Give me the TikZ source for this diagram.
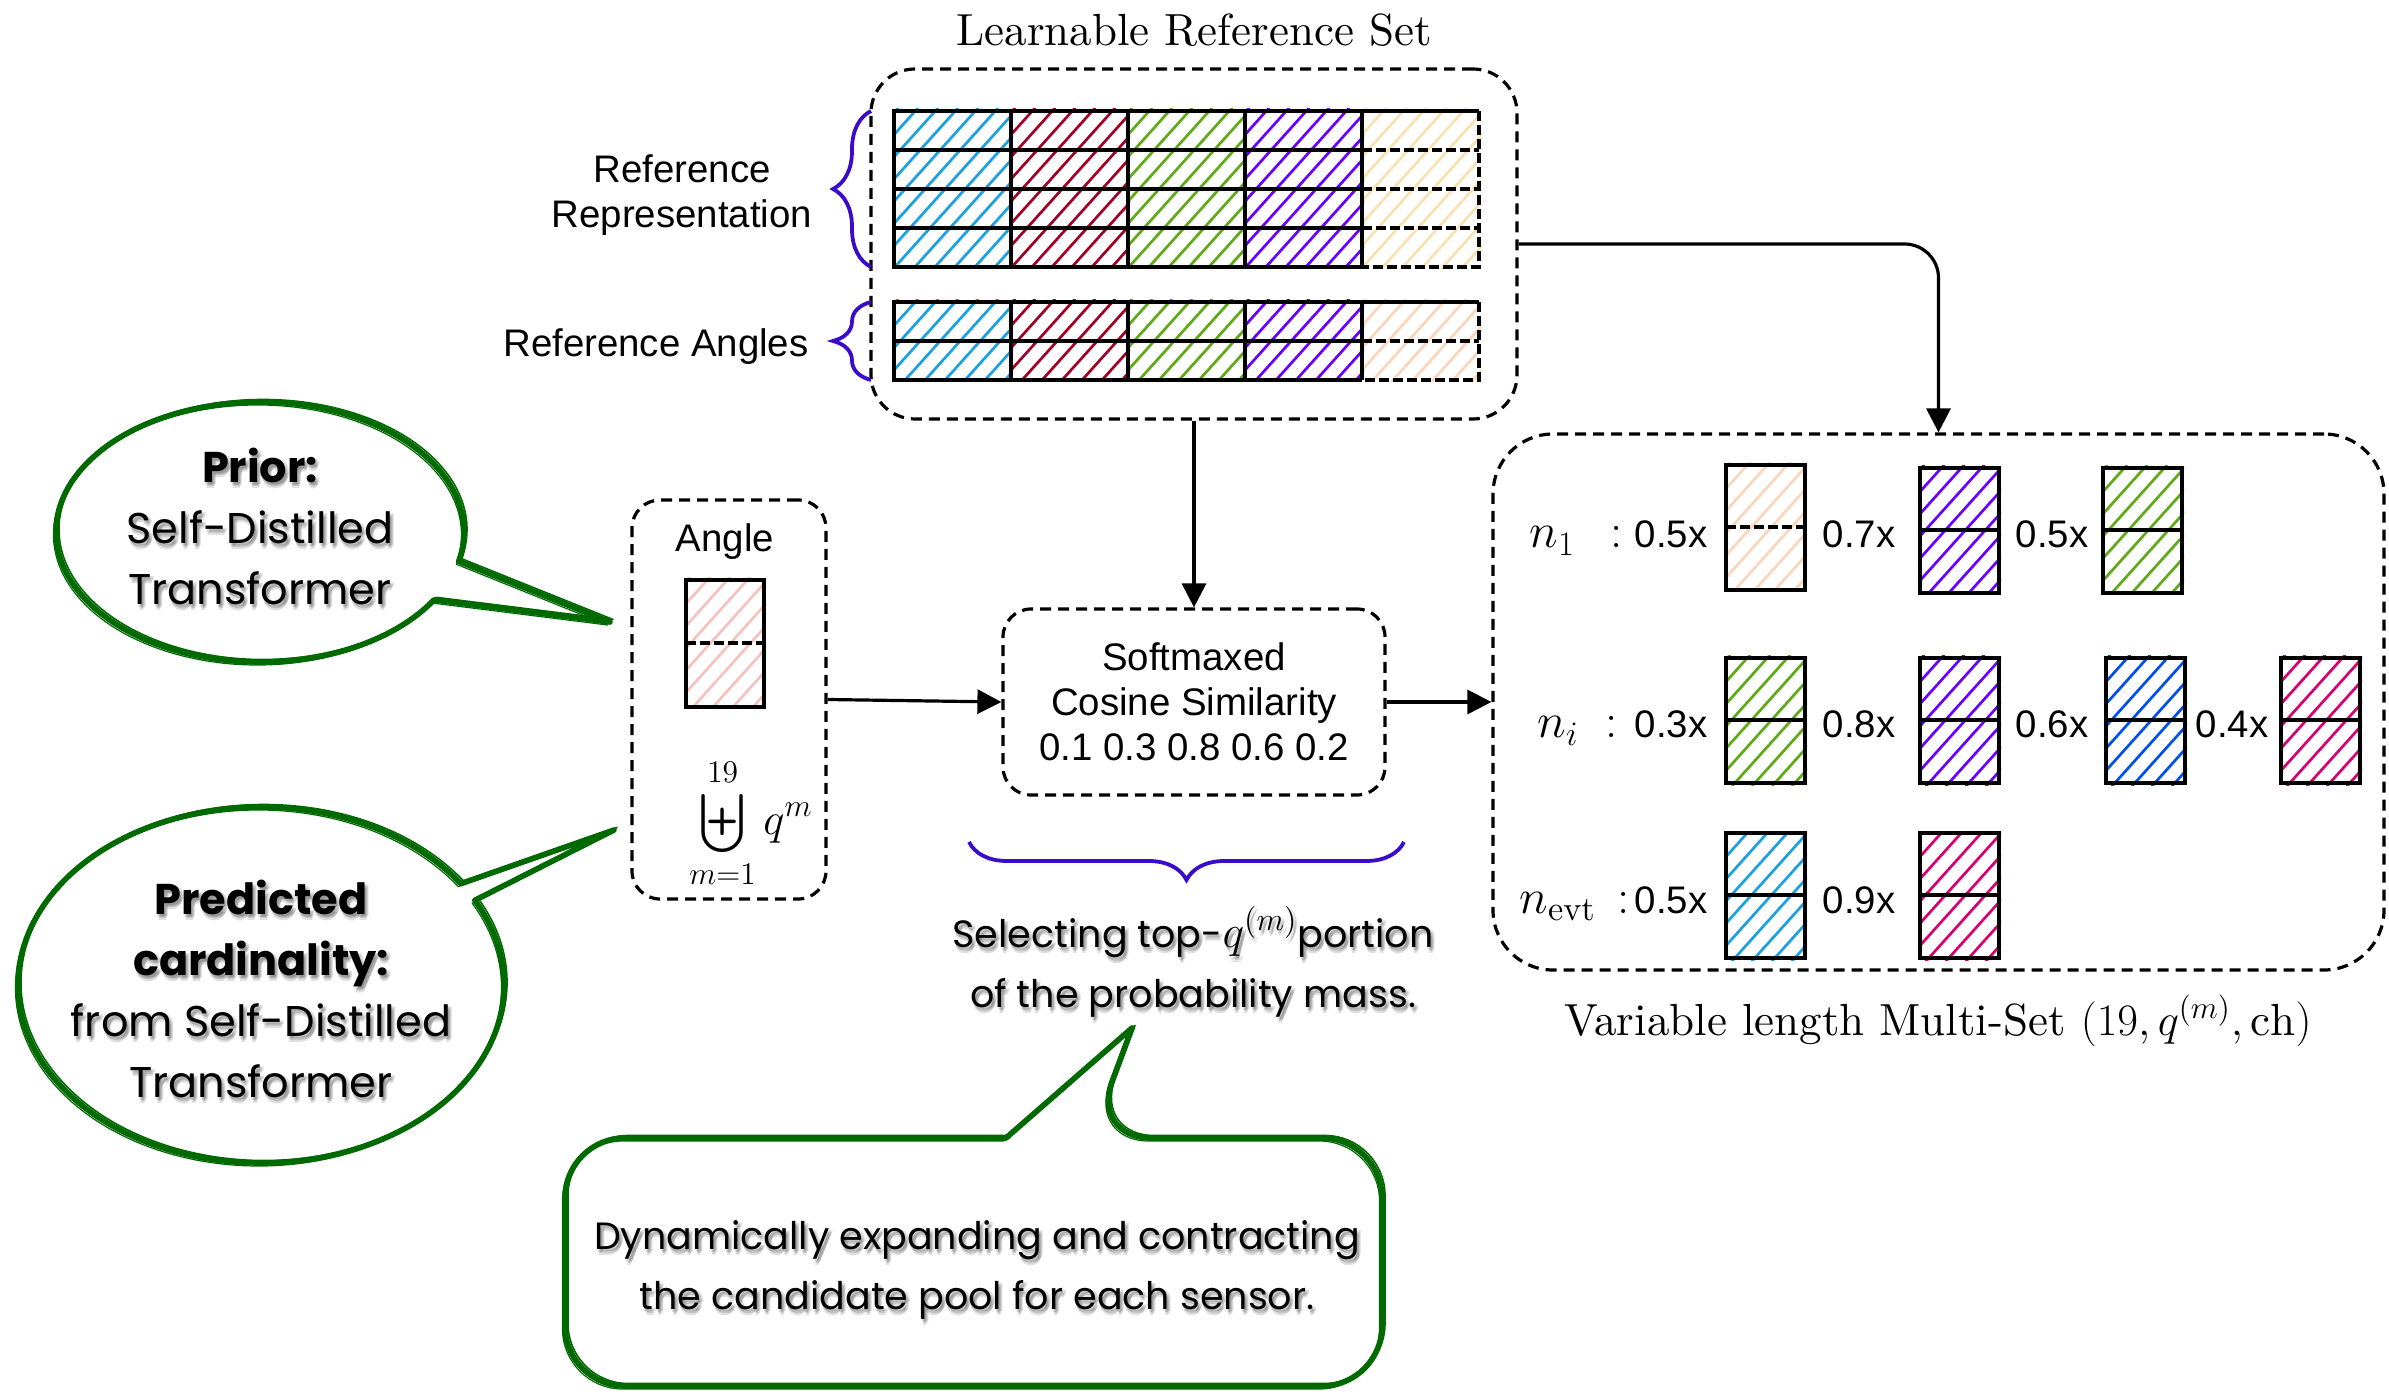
\RequirePackage{fix-cm}
\documentclass[tikz,border=0pt]{standalone}
\usepackage{amsmath}
\usepackage{fontspec}
\setmainfont{lmroman10-regular}[Extension=.otf, BoldFont=lmroman10-bold, ItalicFont=lmroman10-italic]
\setsansfont{Liberation Sans}
\newfontfamily\comicfont{Poppins}
\usetikzlibrary{arrows.meta,decorations.pathreplacing,calc,fit}

\definecolor{hcyan}{HTML}{1BA1E2}
\definecolor{hcrimson}{HTML}{A20025}
\definecolor{hgreen}{HTML}{60A917}
\definecolor{hviolet}{HTML}{6A00FF}
\definecolor{hcream}{HTML}{F9E2B2}
\definecolor{hpeach}{HTML}{F9D6BC}
\definecolor{hpink}{HTML}{F4C2C0}
\definecolor{hblue}{HTML}{0050EF}
\definecolor{hmagenta}{HTML}{D80073}
\definecolor{bracecol}{HTML}{3A0BCB}
\definecolor{bubblegreen}{HTML}{006A00}

\tikzset{
  dbox/.style={draw=black, line width=1.6pt, dash pattern=on 5.5pt off 3.5pt,
               rounded corners=#1, inner sep=0pt},
  flowarrow/.style={draw=black, line width=1.6pt, -{Triangle[length=12pt,width=12pt]}},
  cellborder/.style={draw=black, line width=2pt},
  hatchline/.style={line width=1.35pt, line cap=round},
  curly/.style={decorate, decoration={brace, amplitude=19pt}, draw=bracecol, line width=1.9pt},
  bubbleline/.style={draw=bubblegreen, line width=2.8pt, line join=round},
  sanslab/.style={font=\sffamily\fontsize{19.2}{22.6}\selectfont, inner sep=0pt},
  serifbig/.style={font=\fontsize{22.5}{27}\selectfont, inner sep=0pt},
  mathlab/.style={font=\fontsize{24.5}{29}\selectfont, inner sep=0pt},
  comic/.style={font=\comicfont\fontsize{21.5}{30.5}\selectfont, align=center, inner sep=0pt},
  comicsmall/.style={font=\comicfont\fontsize{19}{30}\selectfont},
}

% diagonal hachure inside a rectangle: x1, y1 (top), x2, y2 (bottom), colour
\newcommand\hatchrect[5]{%
  \begin{scope}
    \clip ({#1-2},{#2-2}) rectangle ({#3+2},{#4+2});
    \pgfmathsetmacro\hh{#4-#2+6}
    \pgfmathtruncatemacro\nn{(#3-#1+0.9*\hh)/20+1}
    \foreach \k in {0,...,\nn}{
      \draw[hatchline, draw=#5] ({#1-0.9*\hh+\k*20+4},{#4+3}) -- ++({0.9*\hh},{-\hh});
    }
  \end{scope}}

% one two-slot cell of the multi-set: x, top y, colour, middle line style
\newcommand\setcell[4]{%
  \hatchrect{#1}{#2}{#1+79}{#2+125}{#3}
  \draw[cellborder] (#1,#2) rectangle ({#1+79},{#2+125});
  \draw[cellborder,#4] (#1,{#2+62}) -- ({#1+79},{#2+62});}

% hand-lettered text with a soft drop shadow: name, position, options, text
\newcommand\comicnode[4]{%
  \foreach \sx/\sy/\sk in {1/3/a,3/4/b,2/6/c,4/2/d}{%
    \node[comic,#3,text=black,text opacity=0.12] (#1-\sk) at ($(#2)+(\sx,\sy)$) {#4};}%
  \node[comic,#3] (#1) at (#2) {#4};}

% sketchy green outline, drawn three times with small offsets
\newcommand\sketchpath[1]{%
  \draw[bubbleline, fill=white] #1;
  \draw[bubbleline, line width=0.8pt, shift={(3,-2.5)}] #1;
  \draw[bubbleline, line width=0.6pt, shift={(-2.5,3)}] #1;}

\begin{document}
\begin{tikzpicture}[x=0.5pt,y=-0.5pt]
\fill[white] (0,0) rectangle (2389,1395);
\useasboundingbox (0,0) rectangle (2389,1395);

% ---------------- learnable reference set ----------------
\node[serifbig, anchor=base] (title) at (1194,46) {Learnable Reference Set};
\node[dbox=22pt, fit={(871,69) (1517,419)}] (refset) {};

\foreach \xa/\xb/\cola/\colb in {894/1011/hcyan/hcyan, 1011/1128/hcrimson/hcrimson,
    1128/1245/hgreen/hgreen, 1245/1362/hviolet/hviolet, 1362/1479/hcream/hpeach}{
  \hatchrect{\xa}{111}{\xb}{267}{\cola}
  \hatchrect{\xa}{302}{\xb}{380}{\colb}
}
% representation rows
\draw[cellborder] (1362,111) -- (894,111) -- (894,267) -- (1362,267);
\foreach \y in {150,189,228} \draw[cellborder] (894,\y) -- (1362,\y);
\foreach \x in {1011,1128,1245,1362} \draw[cellborder] (\x,111) -- (\x,267);
\draw[cellborder] (1362,111) -- (1479,111);
\draw[cellborder, dash pattern=on 5pt off 2pt] (1479,111) -- (1479,267) -- (1362,267);
\foreach \y in {150,189,228} \draw[cellborder, dash pattern=on 5pt off 2pt] (1362,\y) -- (1479,\y);
% angle rows
\draw[cellborder] (1362,302) -- (894,302) -- (894,380) -- (1362,380);
\draw[cellborder] (894,341) -- (1362,341);
\foreach \x in {1011,1128,1245,1362} \draw[cellborder] (\x,302) -- (\x,380);
\draw[cellborder] (1362,302) -- (1479,302);
\draw[cellborder, dash pattern=on 5pt off 2pt] (1479,302) -- (1479,380) -- (1362,380);
\draw[cellborder, dash pattern=on 5pt off 2pt] (1362,341) -- (1479,341);

\draw[curly] (871,267) -- (871,111);
\draw[curly] (871,380) -- (871,302);
\node[sanslab, anchor=base] (lblrefa) at (682,183) {Reference};
\node[sanslab, anchor=base] (lblrefb) at (682,228) {Representation};
\node[sanslab, anchor=base] (lblang) at (656,357) {Reference Angles};

% ---------------- angle query ----------------
\node[dbox=14pt, fit={(632,500) (826,899)}] (anglebox) {};
\node[sanslab, anchor=base] (anglelbl) at (725,552) {Angle};
\hatchrect{686}{580}{764}{707}{hpink}
\draw[cellborder] (686,580) rectangle (764,707);
\draw[cellborder, dash pattern=on 5pt off 2pt] (686,643) -- (764,643);
\node[serifbig] (uplus) at (751,823) {$\displaystyle\biguplus_{m=1}^{19} q^{m}$};

% ---------------- similarity ----------------
\node[dbox=14pt, sanslab, minimum width=191pt, minimum height=93pt, align=center]
  (softmax) at (1194,702) {Softmaxed\\Cosine Similarity\\0.1 0.3 0.8 0.6 0.2};
\draw[curly] (1404,842) -- (969,842);

% ---------------- variable length multi-set ----------------
\node[dbox=30pt, fit={(1493,434) (2384,970)}] (multiset) {};

\setcell{1726}{465}{hpeach}{dash pattern=on 5pt off 2pt}
\setcell{1920}{468}{hviolet}{}
\setcell{2103}{468}{hgreen}{}
\setcell{1726}{658}{hgreen}{}
\setcell{1920}{658}{hviolet}{}
\setcell{2106}{658}{hblue}{}
\setcell{2281}{658}{hmagenta}{}
\setcell{1726}{833}{hcyan}{}
\setcell{1920}{833}{hmagenta}{}

\node[mathlab, anchor=base west] (nfirst) at (1529,548) {$n_1\;\,:$};
\node[mathlab, anchor=base west] (ni) at (1537,738) {$n_i\;:$};
\node[mathlab, anchor=base west] (nevt) at (1519,913) {$n_{\mathrm{evt}}\,:$};
\node[sanslab, anchor=base] (wa) at (1671,548) {0.5x};
\node[sanslab, anchor=base] (wb) at (1859,548) {0.7x};
\node[sanslab, anchor=base] (wc) at (2052,548) {0.5x};
\node[sanslab, anchor=base] (wd) at (1671,738) {0.3x};
\node[sanslab, anchor=base] (we) at (1859,738) {0.8x};
\node[sanslab, anchor=base] (wf) at (2052,738) {0.6x};
\node[sanslab, anchor=base] (wg) at (2232,738) {0.4x};
\node[sanslab, anchor=base] (wh) at (1671,913) {0.5x};
\node[sanslab, anchor=base] (wi) at (1859,913) {0.9x};

\node[serifbig, anchor=base] (vlms) at (1938,1035)
  {Variable length Multi-Set $(19, q^{(m)}, \mathrm{ch})$};

% ---------------- connectors ----------------
\draw[flowarrow, rounded corners=17pt] (refset.east) -| (multiset.north);
\draw[flowarrow] (refset.south) -- (softmax.north);
\draw[flowarrow] (anglebox.east) -- (softmax.west);
\draw[flowarrow] (softmax.east) -- (softmax.east -| multiset.west);

% ---------------- callouts ----------------
\sketchpath{([shift={(260,532)}]31.5:204 and 130) arc[start angle=31.5, end angle=373, x radius=204, y radius=130] -- (610,622) -- cycle}
\sketchpath{([shift={(261,985)}]-28.4:243 and 178) arc[start angle=-28.4, end angle=325.3, x radius=243, y radius=178] -- (614,830) -- cycle}
\sketchpath{(1006,1138) [rounded corners=30pt] -- (565,1138) -- (565,1386) -- (1382,1386) -- (1382,1138) -- (1091,1138) [sharp corners] -- (1132,1028) -- cycle}

\comicnode{priortext}{260,526}{}{\textbf{Prior:}\\Self-Distilled\\Transformer}
\comicnode{cardtext}{261,989}{}{\textbf{Predicted}\\\textbf{cardinality:}\\from Self-Distilled\\Transformer}
\comicnode{pooltext}{977,1270}{comicsmall}{Dynamically expanding and contracting\\the candidate pool for each sensor.}
\comicnode{selecttext}{1193,962}{comicsmall}{Selecting top-{\fontsize{23}{30}\selectfont$q^{(m)}$}portion\\of the probability mass.}
\end{tikzpicture}
\end{document}
